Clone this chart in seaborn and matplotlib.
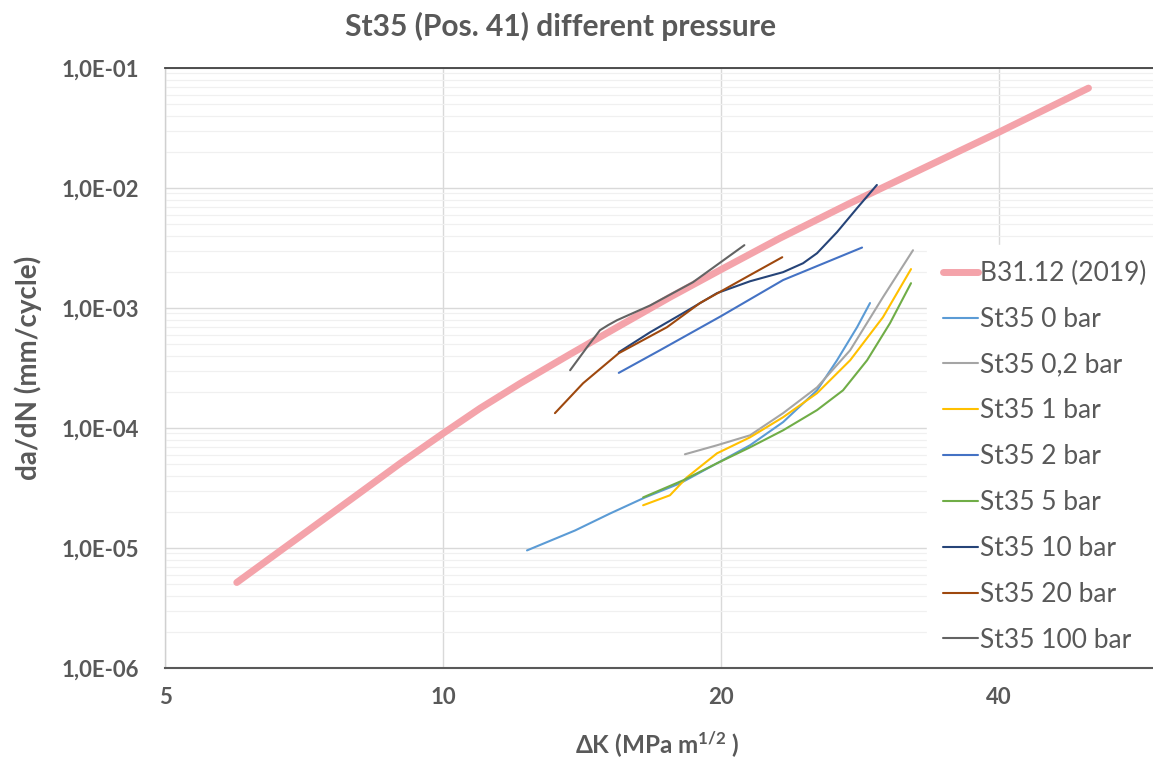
import matplotlib
matplotlib.use('Agg')
import matplotlib.pyplot as plt
import seaborn as sns
import numpy as np
import pandas as pd
from matplotlib.ticker import FixedLocator, NullFormatter, FixedFormatter

# ---------------- data ----------------
b31_dk   = [5.98, 7.93, 8.98, 10.0, 10.97, 12.12, 13.73, 15.55, 17.61, 20.0, 23.17, 27.6, 40.0, 50.0]
b31_dadn = [5.16e-6, 2.51e-5, 5.05e-5, 9.0e-5, 1.46e-4, 2.35e-4, 4.12e-4, 7.14e-4, 1.23e-3,
            2.09e-3, 3.82e-3, 7.48e-3, 2.92e-2, 6.8e-2]

bar0_dk   = [12.33, 13.9, 15.17, 16.55, 18.06, 19.8, 21.5, 23.35, 25.41, 26.71, 28.08, 29.0]
bar0_dadn = [9.55e-6, 1.40e-5, 1.94e-5, 2.64e-5, 3.46e-5, 5.08e-5, 7.18e-5, 1.12e-4, 2.06e-4, 3.67e-4, 6.92e-4, 1.10e-3]

bar02_dk   = [18.28, 19.8, 21.5, 23.35, 25.41, 27.6, 29.95, 32.28]
bar02_dadn = [6.04e-5, 7.18e-5, 8.69e-5, 1.33e-4, 2.18e-4, 4.45e-4, 1.23e-3, 3.03e-3]

bar1_dk   = [16.47, 17.61, 18.37, 19.8, 21.5, 23.35, 25.41, 27.6, 29.95, 32.12]
bar1_dadn = [2.27e-5, 2.75e-5, 3.88e-5, 6.15e-5, 8.36e-5, 1.23e-4, 1.95e-4, 3.67e-4, 8.38e-4, 2.11e-3]

bar2_dk   = [15.5, 17.18, 20.0, 23.35, 28.43]
bar2_dadn = [2.88e-4, 4.45e-4, 8.55e-4, 1.71e-3, 3.19e-3]

bar5_dk   = [16.47, 18.19, 19.8, 21.5, 23.35, 25.41, 27.11, 28.79, 30.48, 32.12]
bar5_dadn = [2.64e-5, 3.66e-5, 5.08e-5, 6.90e-5, 9.57e-5, 1.41e-4, 2.06e-4, 3.67e-4, 7.47e-4, 1.61e-3]

bar10_dk   = [15.5, 16.76, 18.19, 19.8, 21.5, 23.35, 24.54, 25.41, 26.71, 28.08, 29.5]
bar10_dadn = [4.28e-4, 6.28e-4, 9.05e-4, 1.33e-3, 1.67e-3, 1.99e-3, 2.36e-3, 2.86e-3, 4.29e-3, 6.80e-3, 1.06e-2]

bar20_dk   = [13.22, 14.18, 15.5, 17.48, 18.98, 21.5, 23.3]
bar20_dadn = [1.33e-4, 2.36e-4, 4.20e-4, 6.92e-4, 1.10e-3, 1.88e-3, 2.65e-3]

bar100_dk   = [13.73, 14.32, 14.79, 15.09, 15.43, 16.76, 18.65, 21.2]
bar100_dadn = [3.03e-4, 4.71e-4, 6.53e-4, 7.19e-4, 7.91e-4, 1.05e-3, 1.64e-3, 3.34e-3]

series_names = ["B31.12 (2019)", "St35 0 bar", "St35 0,2 bar", "St35 1 bar", "St35 2 bar",
                "St35 5 bar", "St35 10 bar", "St35 20 bar", "St35 100 bar"]
series_dk = [b31_dk, bar0_dk, bar02_dk, bar1_dk, bar2_dk, bar5_dk, bar10_dk, bar20_dk, bar100_dk]
series_dadn = [b31_dadn, bar0_dadn, bar02_dadn, bar1_dadn, bar2_dadn, bar5_dadn, bar10_dadn, bar20_dadn, bar100_dadn]
series_colors = ["#F4A3AA", "#5B9BD5", "#A5A5A5", "#FFC000", "#4472C4",
                 "#70AD47", "#264478", "#9E480E", "#636363"]

x_ticks = [5, 10, 20, 40]
x_ticklabels = ["5", "10", "20", "40"]
y_ticks = [1e-6, 1e-5, 1e-4, 1e-3, 1e-2, 1e-1]
y_ticklabels = ["1,0E-06", "1,0E-05", "1,0E-04", "1,0E-03", "1,0E-02", "1,0E-01"]

title = "St35 (Pos. 41) different pressure"
xlabel = "ΔK (MPa m$^{1/2}$ )"
ylabel = "da/dN (mm/cycle)"

# ---------------- style ----------------
sns.set_theme(style="white")
plt.rcParams['font.family'] = ['Lato', 'DejaVu Sans']
plt.rcParams['mathtext.default'] = 'regular'
TXT = "#595959"

W, H = 1153, 760
fig = plt.figure(figsize=(W / 100, H / 100), dpi=100)
L, R, T, B = 165, 1153, 68, 668
ax = fig.add_axes([L / W, 1 - B / H, (R - L) / W, (B - T) / H])

rows = []
for name, dk, dadn in zip(series_names, series_dk, series_dadn):
    for a, b in zip(dk, dadn):
        rows.append((name, a, b))
df = pd.DataFrame(rows, columns=["series", "dK", "dadN"])

for name, col in zip(series_names, series_colors):
    sub = df[df["series"] == name]
    lw = 5.0 if name.startswith("B31") else 1.5
    sns.lineplot(data=sub, x="dK", y="dadN", color=col, lw=lw, label=name,
                 sort=False, estimator=None, ax=ax, solid_capstyle='round',
                 solid_joinstyle='round')

ax.set_xscale('log')
ax.set_yscale('log')
ax.set_xlim(5, 5 * 2 ** ((R - L) / 278.0))
ax.set_ylim(1e-6, 1e-1)

ax.xaxis.set_major_locator(FixedLocator(x_ticks))
ax.xaxis.set_major_formatter(FixedFormatter(x_ticklabels))
ax.xaxis.set_minor_locator(FixedLocator([]))
ax.yaxis.set_major_locator(FixedLocator(y_ticks))
ax.yaxis.set_major_formatter(FixedFormatter(y_ticklabels))
minors = [m * 10.0 ** e for e in range(-6, -1) for m in range(2, 10)]
ax.yaxis.set_minor_locator(FixedLocator(minors))
ax.yaxis.set_minor_formatter(NullFormatter())

ax.grid(False)
ax.grid(True, which='major', axis='both', color='#D9D9D9', lw=1.0, zorder=0)
ax.grid(True, which='minor', axis='y', color='#F0F0F0', lw=0.9, zorder=0)
ax.set_axisbelow(True)

ax.tick_params(axis='both', which='both', length=0)
ax.tick_params(axis='y', pad=19, labelsize=16, labelcolor=TXT)
ax.tick_params(axis='x', pad=14, labelsize=16, labelcolor=TXT)
for lab in ax.get_xticklabels() + ax.get_yticklabels():
    lab.set_fontweight('bold')

ax.spines['right'].set_visible(False)
ax.spines['top'].set_color('#404040')
ax.spines['top'].set_linewidth(1.3)
ax.spines['bottom'].set_color('#595959')
ax.spines['bottom'].set_linewidth(1.5)
ax.spines['left'].set_color('#D0D0D0')
ax.spines['left'].set_linewidth(1.0)
for sp in ax.spines.values():
    sp.set_zorder(10)

ax.set_xlabel("")
ax.set_ylabel("")

leg = ax.legend(loc='upper left', bbox_to_anchor=(927 / W, 1 - 245 / H),
                bbox_transform=fig.transFigure, frameon=True, fancybox=False,
                facecolor='white', edgecolor='white', framealpha=1.0,
                fontsize=19, handlelength=1.33, handletextpad=0.08,
                labelspacing=0.79, borderpad=0.6, borderaxespad=0)
leg.set_zorder(5)
for t in leg.get_texts():
    t.set_color(TXT)

fig.text(561 / W, 1 - 26 / H, title, ha='center', va='center', fontsize=21.6,
         fontweight='bold', color=TXT)
fig.text(28 / W, 1 - 368 / H, ylabel, ha='center', va='center', rotation=90,
         fontsize=20, fontweight='bold', color=TXT)
fig.text(657 / W, 1 - 745 / H, xlabel, ha='center', va='center',
         fontsize=17.5, fontweight='bold', color=TXT)

fig.savefig("out.png", dpi=100)
